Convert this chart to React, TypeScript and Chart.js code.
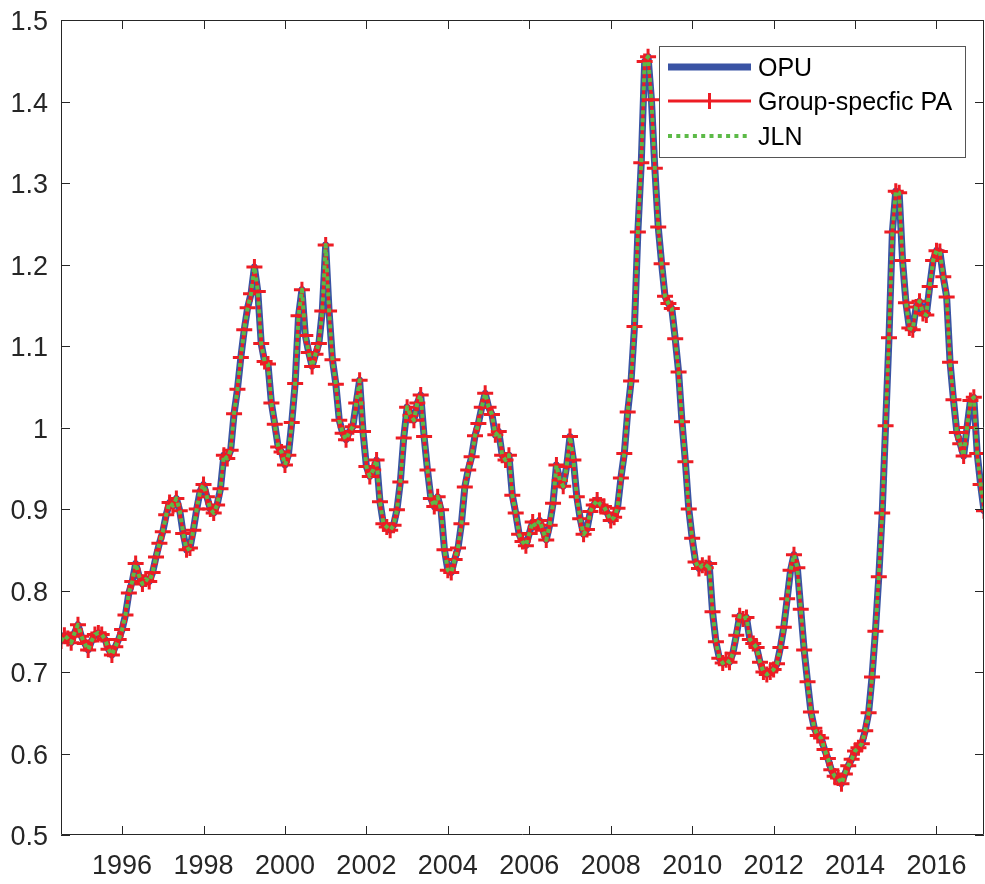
import React, { useEffect, useRef } from "react";
import { Chart, registerables } from "chart.js";

Chart.register(...registerables);

// Monthly observations starting July 1994 (decimal year 1994.5)
const startYear = 1994.5;
const xTickYears = [1996, 1998, 2000, 2002, 2004, 2006, 2008, 2010, 2012, 2014, 2016];
const yTickValues = [0.5, 0.6, 0.7, 0.8, 0.9, 1.0, 1.1, 1.2, 1.3, 1.4, 1.5];
const yTickLabels = ["0.5", "0.6", "0.7", "0.8", "0.9", "1", "1.1", "1.2", "1.3", "1.4", "1.5"];
const seriesLabels = ["OPU", "Group-specfic PA", "JLN"];

const opuValues = [
  0.738, 0.745, 0.741, 0.736, 0.748, 0.758, 0.744, 0.735, 0.727, 0.738, 0.746, 0.748,
  0.746, 0.740, 0.728, 0.721, 0.731, 0.740, 0.752, 0.770, 0.797, 0.811, 0.833, 0.818,
  0.808, 0.814, 0.811, 0.822, 0.841, 0.858, 0.872, 0.893, 0.908, 0.904, 0.913, 0.898,
  0.870, 0.850, 0.852, 0.874, 0.900, 0.922, 0.930, 0.915, 0.900, 0.895, 0.905, 0.925,
  0.966, 0.962, 0.972, 1.017, 1.047, 1.086, 1.120, 1.147, 1.164, 1.197, 1.167, 1.103,
  1.081, 1.078, 1.030, 1.004, 0.976, 0.970, 0.954, 0.966, 1.006, 1.054, 1.137, 1.169,
  1.113, 1.092, 1.075, 1.090, 1.103, 1.143, 1.224, 1.143, 1.083, 1.053, 1.009, 0.993,
  0.985, 0.995, 1.001, 1.030, 1.058, 0.995, 0.952, 0.940, 0.948, 0.960, 0.909, 0.882,
  0.878, 0.874, 0.880, 0.899, 0.933, 0.987, 1.025, 1.015, 1.009, 1.030, 1.040, 0.989,
  0.948, 0.913, 0.903, 0.915, 0.899, 0.850, 0.825, 0.822, 0.838, 0.852, 0.882, 0.927,
  0.948, 0.964, 0.990, 1.005, 1.025, 1.042, 1.025, 1.016, 0.991, 0.995, 0.966, 0.960,
  0.966, 0.917, 0.895, 0.869, 0.860, 0.855, 0.870, 0.884, 0.878, 0.886, 0.874, 0.862,
  0.880, 0.907, 0.954, 0.935, 0.928, 0.952, 0.989, 0.960, 0.915, 0.888, 0.869, 0.875,
  0.897, 0.905, 0.911, 0.905, 0.903, 0.895, 0.886, 0.890, 0.901, 0.938, 0.968, 1.019,
  1.057, 1.124, 1.240, 1.325, 1.449, 1.455, 1.402, 1.318, 1.246, 1.201, 1.161, 1.152,
  1.146, 1.109, 1.068, 1.007, 0.958, 0.900, 0.864, 0.835, 0.827, 0.831, 0.828, 0.833,
  0.774, 0.737, 0.717, 0.711, 0.715, 0.712, 0.723, 0.745, 0.769, 0.765, 0.767, 0.740,
  0.735, 0.730, 0.712, 0.700, 0.697, 0.700, 0.703, 0.710, 0.730, 0.755, 0.790, 0.825,
  0.844, 0.828, 0.777, 0.727, 0.688, 0.651, 0.631, 0.622, 0.619, 0.605, 0.594, 0.580,
  0.572, 0.570, 0.563, 0.575, 0.585, 0.593, 0.603, 0.607, 0.612, 0.628, 0.650, 0.694,
  0.750, 0.817, 0.895, 1.002, 1.110, 1.240, 1.290, 1.288, 1.205, 1.153, 1.122, 1.120,
  1.148, 1.155, 1.140, 1.138, 1.173, 1.205, 1.217, 1.216, 1.185, 1.160, 1.080, 1.034,
  0.994, 0.980, 0.965, 1.000, 1.033, 1.037, 0.968, 0.930, 0.898,
];

const paValues = [
  0.738, 0.745, 0.741, 0.736, 0.748, 0.758, 0.744, 0.735, 0.727, 0.738, 0.746, 0.748,
  0.746, 0.740, 0.728, 0.721, 0.731, 0.740, 0.752, 0.770, 0.797, 0.811, 0.833, 0.818,
  0.808, 0.814, 0.811, 0.822, 0.841, 0.858, 0.872, 0.893, 0.908, 0.904, 0.913, 0.898,
  0.870, 0.850, 0.852, 0.874, 0.900, 0.922, 0.930, 0.915, 0.900, 0.895, 0.905, 0.925,
  0.966, 0.962, 0.972, 1.017, 1.047, 1.086, 1.120, 1.147, 1.164, 1.197, 1.167, 1.103,
  1.081, 1.078, 1.030, 1.004, 0.976, 0.970, 0.954, 0.966, 1.006, 1.054, 1.137, 1.169,
  1.113, 1.092, 1.075, 1.090, 1.103, 1.143, 1.224, 1.143, 1.083, 1.053, 1.009, 0.993,
  0.985, 0.995, 1.001, 1.030, 1.058, 0.995, 0.952, 0.940, 0.948, 0.960, 0.909, 0.882,
  0.878, 0.874, 0.880, 0.899, 0.933, 0.987, 1.025, 1.015, 1.009, 1.030, 1.040, 0.989,
  0.948, 0.913, 0.903, 0.915, 0.899, 0.850, 0.825, 0.822, 0.838, 0.852, 0.882, 0.927,
  0.948, 0.964, 0.990, 1.005, 1.025, 1.042, 1.025, 1.016, 0.991, 0.995, 0.966, 0.960,
  0.966, 0.917, 0.895, 0.869, 0.860, 0.855, 0.870, 0.884, 0.878, 0.886, 0.874, 0.862,
  0.880, 0.907, 0.954, 0.935, 0.928, 0.952, 0.989, 0.960, 0.915, 0.888, 0.869, 0.875,
  0.897, 0.905, 0.911, 0.905, 0.903, 0.895, 0.886, 0.890, 0.901, 0.938, 0.968, 1.019,
  1.057, 1.124, 1.240, 1.325, 1.449, 1.455, 1.402, 1.318, 1.246, 1.201, 1.161, 1.152,
  1.146, 1.109, 1.068, 1.007, 0.958, 0.900, 0.864, 0.835, 0.827, 0.831, 0.828, 0.833,
  0.774, 0.737, 0.717, 0.711, 0.715, 0.712, 0.723, 0.745, 0.769, 0.765, 0.767, 0.740,
  0.735, 0.730, 0.712, 0.700, 0.697, 0.700, 0.703, 0.710, 0.730, 0.755, 0.790, 0.825,
  0.844, 0.828, 0.777, 0.727, 0.688, 0.651, 0.631, 0.622, 0.619, 0.605, 0.594, 0.580,
  0.572, 0.570, 0.563, 0.575, 0.585, 0.593, 0.603, 0.607, 0.612, 0.628, 0.650, 0.694,
  0.750, 0.817, 0.895, 1.002, 1.110, 1.240, 1.290, 1.288, 1.205, 1.153, 1.122, 1.120,
  1.148, 1.155, 1.140, 1.138, 1.173, 1.205, 1.217, 1.216, 1.185, 1.160, 1.080, 1.034,
  0.994, 0.980, 0.965, 1.000, 1.033, 1.037, 0.968, 0.930, 0.898,
];

const jlnValues = [
  0.738, 0.745, 0.741, 0.736, 0.748, 0.758, 0.744, 0.735, 0.727, 0.738, 0.746, 0.748,
  0.746, 0.740, 0.728, 0.721, 0.731, 0.740, 0.752, 0.770, 0.797, 0.811, 0.833, 0.818,
  0.808, 0.814, 0.811, 0.822, 0.841, 0.858, 0.872, 0.893, 0.908, 0.904, 0.913, 0.898,
  0.870, 0.850, 0.852, 0.874, 0.900, 0.922, 0.930, 0.915, 0.900, 0.895, 0.905, 0.925,
  0.966, 0.962, 0.972, 1.017, 1.047, 1.086, 1.120, 1.147, 1.164, 1.197, 1.167, 1.103,
  1.081, 1.078, 1.030, 1.004, 0.976, 0.970, 0.954, 0.966, 1.006, 1.054, 1.137, 1.169,
  1.113, 1.092, 1.075, 1.090, 1.103, 1.143, 1.224, 1.143, 1.083, 1.053, 1.009, 0.993,
  0.985, 0.995, 1.001, 1.030, 1.058, 0.995, 0.952, 0.940, 0.948, 0.960, 0.909, 0.882,
  0.878, 0.874, 0.880, 0.899, 0.933, 0.987, 1.025, 1.015, 1.009, 1.030, 1.040, 0.989,
  0.948, 0.913, 0.903, 0.915, 0.899, 0.850, 0.825, 0.822, 0.838, 0.852, 0.882, 0.927,
  0.948, 0.964, 0.990, 1.005, 1.025, 1.042, 1.025, 1.016, 0.991, 0.995, 0.966, 0.960,
  0.966, 0.917, 0.895, 0.869, 0.860, 0.855, 0.870, 0.884, 0.878, 0.886, 0.874, 0.862,
  0.880, 0.907, 0.954, 0.935, 0.928, 0.952, 0.989, 0.960, 0.915, 0.888, 0.869, 0.875,
  0.897, 0.905, 0.911, 0.905, 0.903, 0.895, 0.886, 0.890, 0.901, 0.938, 0.968, 1.019,
  1.057, 1.124, 1.240, 1.325, 1.449, 1.455, 1.402, 1.318, 1.246, 1.201, 1.161, 1.152,
  1.146, 1.109, 1.068, 1.007, 0.958, 0.900, 0.864, 0.835, 0.827, 0.831, 0.828, 0.833,
  0.774, 0.737, 0.717, 0.711, 0.715, 0.712, 0.723, 0.745, 0.769, 0.765, 0.767, 0.740,
  0.735, 0.730, 0.712, 0.700, 0.697, 0.700, 0.703, 0.710, 0.730, 0.755, 0.790, 0.825,
  0.844, 0.828, 0.777, 0.727, 0.688, 0.651, 0.631, 0.622, 0.619, 0.605, 0.594, 0.580,
  0.572, 0.570, 0.563, 0.575, 0.585, 0.593, 0.603, 0.607, 0.612, 0.628, 0.650, 0.694,
  0.750, 0.817, 0.895, 1.002, 1.110, 1.240, 1.290, 1.288, 1.205, 1.153, 1.122, 1.120,
  1.148, 1.155, 1.140, 1.138, 1.173, 1.205, 1.217, 1.216, 1.185, 1.160, 1.080, 1.034,
  0.994, 0.980, 0.965, 1.000, 1.033, 1.037, 0.968, 0.930, 0.898,
];

const months = opuValues.map((_, i) => startYear + i / 12);

const COLORS = {
  opu: "#3953a4",
  pa: "#ed1c24",
  jln: "#5cba47",
  axis: "#262626",
};
const FONT = "'Liberation Sans', Arial, Helvetica, sans-serif";

const boxPlugin = {
  id: "matlabBox",
  afterDatasetsDraw(chart: any) {
    const { ctx, chartArea: a, scales } = chart;
    const x = scales.x;
    const y = scales.y;
    const tl = 9;
    ctx.save();
    ctx.strokeStyle = COLORS.axis;
    ctx.lineWidth = 1;
    ctx.beginPath();
    ctx.rect(a.left + 0.5, a.top + 0.5, a.right - a.left - 1, a.bottom - a.top - 1);
    ctx.stroke();
    ctx.beginPath();
    xTickYears.forEach((v) => {
      const px = Math.round(x.getPixelForValue(v)) + 0.5;
      ctx.moveTo(px, a.bottom);
      ctx.lineTo(px, a.bottom - tl);
      ctx.moveTo(px, a.top);
      ctx.lineTo(px, a.top + tl);
    });
    yTickValues.forEach((v) => {
      const py = Math.round(y.getPixelForValue(v)) + 0.5;
      ctx.moveTo(a.left, py);
      ctx.lineTo(a.left + tl, py);
      ctx.moveTo(a.right, py);
      ctx.lineTo(a.right - tl, py);
    });
    ctx.stroke();
    ctx.restore();
  },
};

const legendPlugin = {
  id: "boxLegend",
  afterDraw(chart: any) {
    const { ctx, chartArea: a } = chart;
    const boxW = 306;
    const boxH = 111;
    const boxL = a.right - 325;
    const boxT = a.top + 26;
    ctx.save();
    ctx.fillStyle = "#ffffff";
    ctx.fillRect(boxL, boxT, boxW, boxH);
    ctx.strokeStyle = "#555555";
    ctx.lineWidth = 1;
    ctx.strokeRect(boxL + 0.5, boxT + 0.5, boxW, boxH);

    const x0 = boxL + 9;
    const x1 = boxL + 92;
    const rows = [boxT + 21, boxT + 55, boxT + 90];
    ctx.lineCap = "butt";

    // OPU
    ctx.strokeStyle = COLORS.opu;
    ctx.lineWidth = 7;
    ctx.beginPath();
    ctx.moveTo(x0, rows[0]);
    ctx.lineTo(x1, rows[0]);
    ctx.stroke();

    // Group-specific PA
    ctx.strokeStyle = COLORS.pa;
    ctx.lineWidth = 3;
    ctx.beginPath();
    ctx.moveTo(x0, rows[1]);
    ctx.lineTo(x1, rows[1]);
    const cx = (x0 + x1) / 2;
    ctx.moveTo(cx - 8, rows[1]);
    ctx.lineTo(cx + 8, rows[1]);
    ctx.moveTo(cx, rows[1] - 8);
    ctx.lineTo(cx, rows[1] + 8);
    ctx.stroke();

    // JLN
    ctx.strokeStyle = COLORS.jln;
    ctx.lineWidth = 4;
    ctx.setLineDash([4, 4.3]);
    ctx.beginPath();
    ctx.moveTo(x0, rows[2]);
    ctx.lineTo(x1, rows[2]);
    ctx.stroke();
    ctx.setLineDash([]);

    ctx.fillStyle = "#000000";
    ctx.font = `25px ${FONT}`;
    ctx.textBaseline = "middle";
    ctx.textAlign = "left";
    seriesLabels.forEach((t, i) => {
      ctx.fillText(t, boxL + 99, rows[i] + 2);
    });
    ctx.restore();
  },
};

const zeroPadding = (s: any) => {
  s.paddingTop = 0;
  s.paddingBottom = 0;
  s.paddingLeft = 0;
  s.paddingRight = 0;
};

export default function App() {
  const canvasRef = useRef<HTMLCanvasElement | null>(null);

  useEffect(() => {
    const canvas = canvasRef.current;
    if (!canvas) return;
    const toPoints = (vals: number[]) => vals.map((v, i) => ({ x: months[i], y: v }));
    const chart = new Chart(canvas, {
      type: "line",
      data: {
        datasets: [
          {
            label: seriesLabels[0],
            data: toPoints(opuValues),
            borderColor: COLORS.opu,
            backgroundColor: COLORS.opu,
            borderWidth: 7,
            borderJoinStyle: "round",
            borderCapStyle: "round",
            pointRadius: 0,
            tension: 0,
            order: 3,
          },
          {
            label: seriesLabels[1],
            data: toPoints(paValues),
            borderColor: COLORS.pa,
            backgroundColor: COLORS.pa,
            borderWidth: 3,
            borderJoinStyle: "round",
            pointStyle: "cross",
            pointRadius: 8,
            pointBorderWidth: 3,
            pointBorderColor: COLORS.pa,
            tension: 0,
            order: 2,
          },
          {
            label: seriesLabels[2],
            data: toPoints(jlnValues),
            borderColor: COLORS.jln,
            backgroundColor: COLORS.jln,
            borderWidth: 4,
            borderDash: [4, 4],
            borderJoinStyle: "round",
            pointRadius: 0,
            tension: 0,
            order: 1,
          },
        ],
      },
      options: {
        responsive: false,
        animation: false,
        devicePixelRatio: 1,
        layout: { autoPadding: false, padding: { top: 20, right: 1, left: 0, bottom: 0 } },
        plugins: {
          legend: { display: false },
          tooltip: { enabled: false },
        },
        scales: {
          x: {
            type: "linear",
            min: months[0],
            max: months[months.length - 1],
            grid: { display: false, drawTicks: false },
            border: { display: false },
            afterBuildTicks: (s: any) => {
              s.ticks = xTickYears.map((v) => ({ value: v }));
            },
            afterFit: (s: any) => {
              s.height = 49;
              zeroPadding(s);
            },
            ticks: {
              autoSkip: false,
              maxRotation: 0,
              minRotation: 0,
              padding: 15,
              color: COLORS.axis,
              font: { family: FONT, size: 27 },
              callback: (v: any) => String(v),
            },
          },
          y: {
            type: "linear",
            min: 0.5,
            max: 1.5,
            grid: { display: false, drawTicks: false },
            border: { display: false },
            afterBuildTicks: (s: any) => {
              s.ticks = yTickValues.map((v) => ({ value: v }));
            },
            afterFit: (s: any) => {
              s.width = 61;
              zeroPadding(s);
            },
            ticks: {
              autoSkip: false,
              padding: 13,
              labelOffset: 3,
              color: COLORS.axis,
              font: { family: FONT, size: 27 },
              callback: (_v: any, i: number) => yTickLabels[i],
            },
          },
        },
      },
      plugins: [boxPlugin, legendPlugin],
    });
    return () => chart.destroy();
  }, []);

  return (
    <div style={{ position: "absolute", left: 0, top: 0, width: 985, height: 884, background: "#fff" }}>
      <canvas ref={canvasRef} width={985} height={884} style={{ width: 985, height: 884 }} />
    </div>
  );
}
